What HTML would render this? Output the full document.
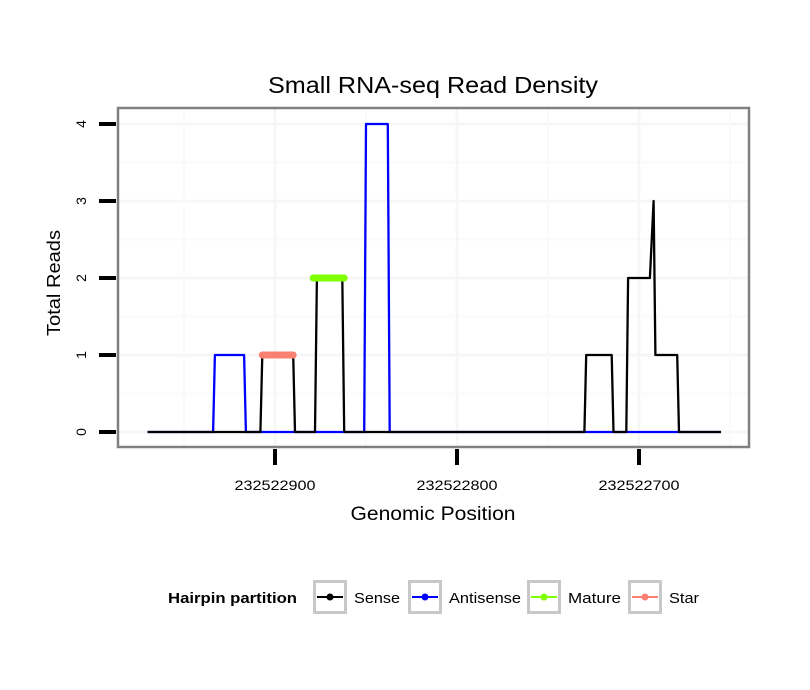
<!DOCTYPE html>
<html><head><meta charset="utf-8"><style>
body{margin:0;background:#fff;}
svg{display:block;font-family:"Liberation Sans",sans-serif;}
</style></head><body>
<svg id="chart" width="810" height="690" viewBox="0 0 810 690">
<rect x="0" y="0" width="810" height="690" fill="#fff"/>
<text x="433" y="93" font-size="23" text-anchor="middle" textLength="330" lengthAdjust="spacingAndGlyphs" fill="#000">Small RNA-seq Read Density</text>
<rect x="118" y="108" width="631" height="339" fill="#fff"/>
<g id="grid"></g>
<g id="series"></g>
<rect x="118" y="108" width="631" height="339" fill="none" stroke="#808080" stroke-width="2.5"/>
<g id="axes"></g>
<text x="433" y="520" font-size="19" text-anchor="middle" textLength="165" lengthAdjust="spacingAndGlyphs">Genomic Position</text>
<text transform="translate(60,283) rotate(-90)" font-size="18" text-anchor="middle" textLength="106" lengthAdjust="spacingAndGlyphs">Total Reads</text>
<g>
<text x="168" y="603" font-size="15" font-weight="bold" textLength="129" lengthAdjust="spacingAndGlyphs">Hairpin partition</text>
<g id="legend-items"></g>
</g>
</svg>
<script>
const yTicks=[0,1,2,3,4];
const xTicks=[232522900,232522800,232522700];
const xTickLabels=["232522900","232522800","232522700"];
const senseX=[232522970,232522908,232522907,232522890,232522889,232522878,232522877,232522863,232522862,232522730,232522729,232522715,232522714,232522707,232522706,232522694,232522692,232522691,232522679,232522678,232522655];
const senseY=[0,0,1,1,0,0,2,2,0,0,1,1,0,0,2,2,3,1,1,0,0];
const antisenseX=[232522970,232522934,232522933,232522917,232522916,232522851,232522850,232522838,232522837,232522655];
const antisenseY=[0,0,1,1,0,0,4,4,0,0];
const matureX=[232522879,232522862];
const matureY=[2,2];
const starX=[232522907,232522890];
const starY=[1,1];
const legendLabels=["Sense","Antisense","Mature","Star"];
const legendColors=["#000000","#0000ff","#7fff00","#fa8072"];

const NS="http://www.w3.org/2000/svg";
function xs(p){return 275+(232522900-p)*1.82;}
function ys(v){return 432-v*77;}
function mk(tag,attrs,parent){const e=document.createElementNS(NS,tag);for(const k in attrs)e.setAttribute(k,attrs[k]);parent.appendChild(e);return e;}
const grid=document.getElementById('grid'),axes=document.getElementById('axes'),ser=document.getElementById('series');
for(let v=0;v<=4;v+=0.5){const l=mk('line',{x1:118,x2:749,y1:ys(v),y2:ys(v),stroke:v%1?'#fafafa':'#f6f6f6','stroke-width':v%1?2:2.5},grid);

}
for(let p=232523000;p>=232522600;p-=50){const x=xs(p);if(x<118||x>749)continue;const l=mk('line',{x1:x,x2:x,y1:108,y2:447,stroke:p%100?'#fafafa':'#f6f6f6','stroke-width':p%100?2:2.5},grid);

}
yTicks.forEach(v=>{const t=mk('line',{x1:99,x2:116,y1:ys(v),y2:ys(v),stroke:'#000','stroke-width':4},axes);


const tx=mk('text',{transform:`translate(86,${ys(v)}) rotate(-90)`,'font-size':14,'text-anchor':'middle'},axes);tx.textContent=v;

});
xTicks.forEach((p,i)=>{const t=mk('line',{x1:xs(p),x2:xs(p),y1:449,y2:465,stroke:'#000','stroke-width':4},axes);


const tx=mk('text',{x:xs(p),y:490,'font-size':14,'text-anchor':'middle',textLength:81,lengthAdjust:'spacingAndGlyphs'},axes);tx.textContent=xTickLabels[i];

});
function path(X,Y,color,w,name,cap){const d=X.map((p,i)=>(i?'L':'M')+xs(p).toFixed(1)+','+ys(Y[i]).toFixed(1)).join('');
const e=mk('path',{d:d,fill:'none',stroke:color,'stroke-width':w,'stroke-linecap':cap||'butt','stroke-linejoin':'round'},ser);

}
path(antisenseX,antisenseY,'#0000ff',2.3,'antisense-line');
path(senseX,senseY,'#000000',2.3,'sense-line');
path(matureX,matureY,'#7fff00',7,'mature-line','round');
path(starX,starY,'#fa8072',7,'star-line','round');
const li=document.getElementById('legend-items');
const boxX=[313,408,527,628];
const labW=[46,72,53,30];
legendLabels.forEach((lab,i)=>{const g=mk('g',{},li);


mk('rect',{x:boxX[i]+1.5,y:581.5,width:31,height:31,fill:'#fff',stroke:'#c8c8c8','stroke-width':3},g);
mk('line',{x1:boxX[i]+4,x2:boxX[i]+30,y1:597,y2:597,stroke:legendColors[i],'stroke-width':2},g);
mk('circle',{cx:boxX[i]+17,cy:597,r:3.5,fill:legendColors[i]},g);
const t=mk('text',{x:boxX[i]+41,y:603,'font-size':15,textLength:labW[i],lengthAdjust:'spacingAndGlyphs'},g);t.textContent=lab;});
</script>
</body></html>
